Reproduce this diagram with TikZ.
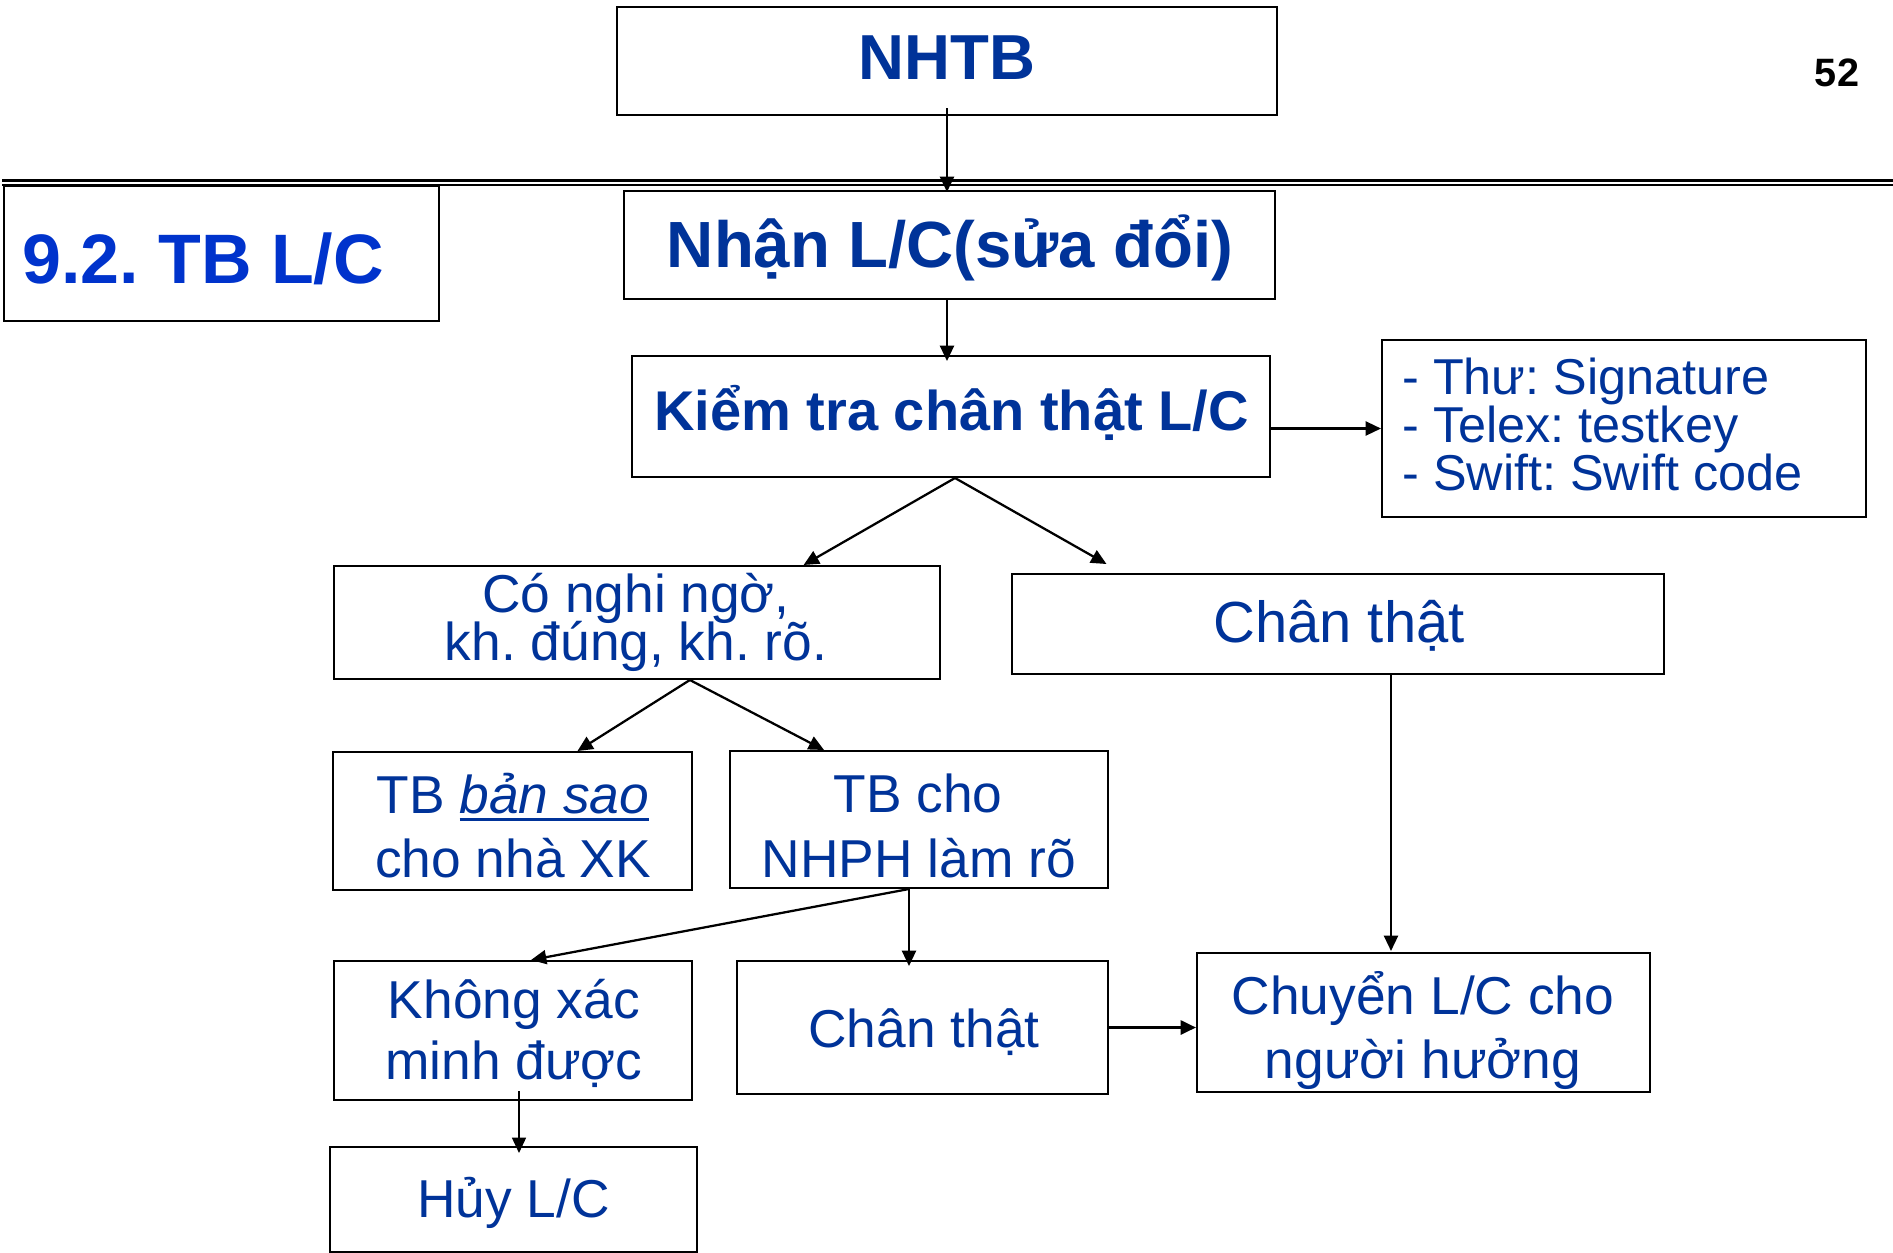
\documentclass[tikz,border=0pt]{standalone}
\usepackage{fontspec}
\setmainfont{Liberation Sans}
\usetikzlibrary{arrows.meta,calc}
\definecolor{txtblue}{HTML}{003399}
\definecolor{ttlblue}{HTML}{0033CC}
\frenchspacing
% thick underline placed under the given text
\newcommand\thickul[1]{\setbox0\hbox{#1}\rlap{\rule[-6pt]{\wd0}{2.6pt}}\box0}
\tikzset{
  box/.style={draw=black, line width=1.5pt, inner sep=0pt},
  txt/.style={inner sep=0pt, anchor=base, text=txtblue},
  hugebold/.style={font=\fontsize{47.7}{50}\selectfont\bfseries},
  bigbold/.style={font=\fontsize{49}{52}\selectfont\bfseries},
  midbold/.style={font=\fontsize{42}{46}\selectfont\bfseries},
  normal/.style={font=\fontsize{40}{44}\selectfont},
  large/.style={font=\fontsize{43.5}{48}\selectfont},
  listtxt/.style={font=\fontsize{37.8}{42}\selectfont},
  arr/.style={-{Triangle[length=11.5pt,width=10.5pt]}, line width=1.7pt},
}
\begin{document}
\begin{tikzpicture}[x=0.75pt, y=-0.75pt]
\useasboundingbox (0,0) rectangle (1893,1253);

% header rules
\draw[line width=2pt] (2,180.5) -- (1893,180.5);
\draw[line width=1.4pt] (2,185) -- (1893,185);

% boxes
\node[box, minimum width=495pt, minimum height=81pt] (nhtb) at (947,61) {};
\node[box, line width=2pt, minimum width=326.25pt, minimum height=101.25pt] (title) at (221.5,253.5) {};
\node[box, minimum width=488.25pt, minimum height=81pt] (nhan) at (949.5,245) {};
\node[box, minimum width=478.5pt, minimum height=90.75pt] (kiem) at (951,416.5) {};
\node[box, minimum width=363pt, minimum height=132.75pt] (thu) at (1624,428.5) {};
\node[box, minimum width=454.5pt, minimum height=84.75pt] (co) at (637,622.5) {};
\node[box, minimum width=489pt, minimum height=75pt] (chanr) at (1338,624) {};
\node[box, minimum width=269.25pt, minimum height=103.5pt] (bansao) at (512.5,821) {};
\node[box, minimum width=283.5pt, minimum height=102.75pt] (tbcho) at (919,819.5) {};
\node[box, minimum width=268.5pt, minimum height=104.25pt] (khong) at (513,1030.5) {};
\node[box, minimum width=278.25pt, minimum height=99.75pt] (chanl) at (922.5,1027.5) {};
\node[box, minimum width=339.75pt, minimum height=104.25pt] (chuyen) at (1423.5,1022.5) {};
\node[box, minimum width=275.25pt, minimum height=78.75pt] (huy) at (513.5,1199.5) {};

% texts
\node[txt, hugebold] (nhtb-t) at (947,79) {NHTB};
\node[inner sep=0pt, anchor=base, font=\fontsize{29.7}{32}\selectfont\bfseries] (page) at (1837,86) {52};
\node[inner sep=0pt, anchor=base west, text=ttlblue, font=\fontsize{52.5}{56}\selectfont\bfseries] (title-t) at (22,283) {9.2. TB L/C};
\node[txt, bigbold] (nhan-t) at (950,267) {Nhận L/C(sửa đổi)};
\node[txt, midbold] (kiem-t) at (951.5,430) {Kiểm tra chân thật L/C};
\node[txt, listtxt, anchor=base west] (thu-a) at (1402,394) {- Thư: Signature};
\node[txt, listtxt, anchor=base west] (thu-b) at (1402,442) {- Telex: testkey};
\node[txt, listtxt, anchor=base west] (thu-c) at (1402,490) {- Swift: Swift code};
\node[txt, normal] (co-a) at (636,612) {Có nghi ngờ,};
\node[txt, normal] (co-b) at (636,660) {kh. đúng, kh. rõ.};
\node[txt, large] (chanr-t) at (1339,642) {Chân thật};
\node[txt, normal] (bansao-a) at (513,813) {TB \thickul{\itshape bản sao}};
\node[txt, normal] (bansao-b) at (513,877) {cho nhà XK};
\node[txt, normal] (tbcho-a) at (918,812) {TB cho};
\node[txt, normal] (tbcho-b) at (919,877) {NHPH làm rõ};
\node[txt, normal] (khong-a) at (514,1018) {Không xác};
\node[txt, normal] (khong-b) at (514,1079) {minh được};
\node[txt, normal] (chanl-t) at (924,1047) {Chân thật};
\node[txt, normal] (chuyen-a) at (1423,1014) {Chuyển L/C cho};
\node[txt, normal] (chuyen-b) at (1423,1078) {người hưởng};
\node[txt, normal] (huy-t) at (513.5,1217) {Hủy L/C};

% connectors
\draw[arr] ($(nhtb.south)+(0,-8)$) -- ($(nhtb.south |- nhan.north)+(0,2)$);
\coordinate (nhanfoot) at ($(nhan.south)+(-2.5,0)$);
\draw[arr] (nhanfoot) -- ($(nhanfoot |- kiem.north)+(0,6)$);
\draw[arr] (kiem.east |- thu.west) -- (thu.west);

\coordinate (kiemfoot) at ($(kiem.south)+(4,0)$);
\draw[arr] (kiemfoot) -- ($(co.north west)!0.774!(co.north east)$);
\draw[arr] (kiemfoot) -- ($(chanr.north west)!0.146!(chanr.north east)+(0,-9)$);

\coordinate (cofoot) at ($(co.south west)!0.587!(co.south east)$);
\draw[arr] (cofoot) -- ($(bansao.north west)!0.68!(bansao.north east)$);
\draw[arr] (cofoot) -- ($(tbcho.north west)!0.25!(tbcho.north east)$);

\coordinate (tbchofoot) at ($(tbcho.south)+(-10,0)$);
\draw[arr] (tbchofoot) -- ($(khong.north west)!0.55!(khong.north east)$);
\draw[arr] (tbchofoot) -- ($(tbchofoot |- chanl.north)+(0,6)$);

\coordinate (chanrfoot) at ($(chanr.south)+(53,0)$);
\draw[arr] (chanrfoot) -- ($(chanrfoot |- chuyen.north)+(0,-1)$);
\draw[arr, line width=2.1pt] (chanl.east) -- (chanl.east -| chuyen.west);
\draw[arr, line width=1.1pt] ($(khong.south)+(6,-10)$) -- ($(huy.north)+(5.5,7)$);
\end{tikzpicture}
\end{document}
